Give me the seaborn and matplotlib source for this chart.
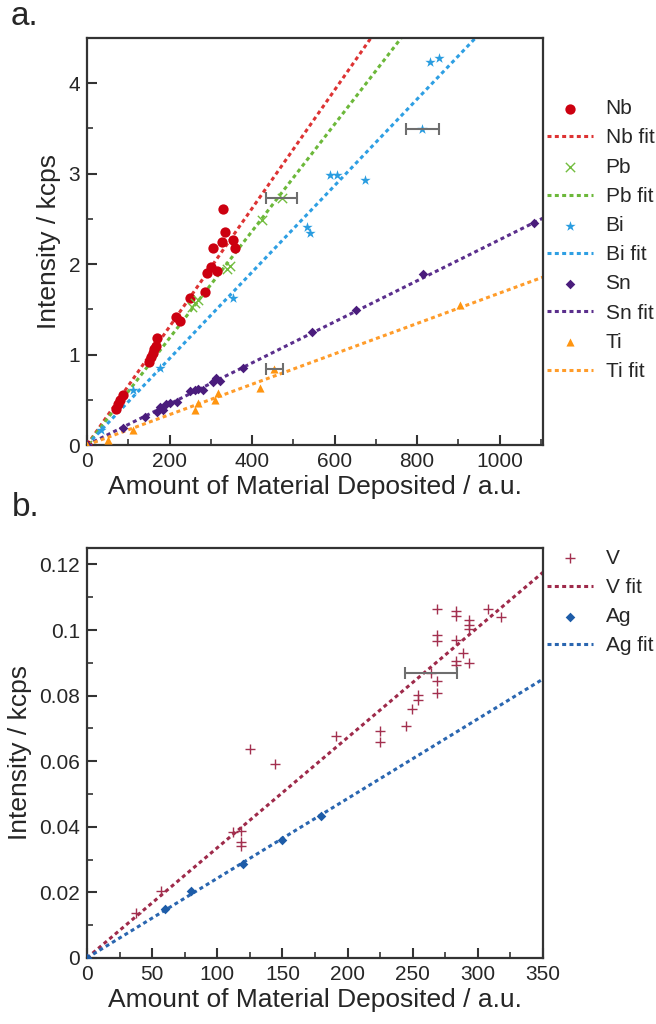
import numpy as np
import pandas as pd
import seaborn as sns
import matplotlib
matplotlib.use("Agg")
import matplotlib.pyplot as plt
from matplotlib.ticker import MultipleLocator

sns.set_theme(style="white")
plt.rcParams['font.family'] = ['Liberation Sans', 'DejaVu Sans']

# ---------------- Panel a data ----------------
nb_x = [0, 70, 75, 80, 88, 150, 155, 160, 163, 167, 170, 215, 225, 250, 286, 291, 300, 306, 315, 327, 335, 355, 359, 330]
nb_y = [0, 0.40, 0.45, 0.50, 0.55, 0.92, 0.97, 1.02, 1.06, 1.10, 1.18, 1.41, 1.37, 1.63, 1.69, 1.90, 1.97, 2.18, 1.92, 2.24, 2.35, 2.27, 2.18, 2.61]
pb_x = [0, 255, 262, 268, 340, 346, 424, 472]
pb_y = [0, 1.53, 1.57, 1.60, 1.95, 1.98, 2.49, 2.73]
bi_x = [0, 35, 112, 177, 355, 533, 541, 589, 606, 674, 812, 832, 853]
bi_y = [0, 0.17, 0.61, 0.85, 1.63, 2.41, 2.34, 2.99, 2.98, 2.93, 3.49, 4.24, 4.28]
sn_x = [0, 88, 141, 170, 178, 185, 192, 200, 218, 250, 262, 270, 280, 306, 313, 322, 378, 545, 652, 814, 1084]
sn_y = [0, 0.19, 0.31, 0.37, 0.42, 0.39, 0.45, 0.47, 0.48, 0.60, 0.61, 0.62, 0.61, 0.70, 0.74, 0.71, 0.85, 1.25, 1.49, 1.89, 2.46]
ti_x = [0, 51, 112, 262, 270, 310, 318, 420, 453, 904]
ti_y = [0, 0.06, 0.17, 0.39, 0.46, 0.50, 0.57, 0.63, 0.84, 1.55]
# fitted slopes (kcps per a.u.)
slope_a = {"Nb": 0.00654, "Pb": 0.00591, "Bi": 0.00478, "Sn": 0.00227, "Ti": 0.00168}
# error bars: x, y, xerr
err_a_x = [472, 812, 455]
err_a_y = [2.73, 3.49, 0.84]
err_a_dx = [38, 40, 21]

# ---------------- Panel b data ----------------
v_x = [38, 56.5, 112, 118, 118, 118, 125, 144, 191.5, 224.7, 224.7, 244.7, 249.3, 254, 254, 264, 268.7, 268.7, 268.7, 268.7, 268.7,
       283.5, 283.5, 283.5, 283.5, 283.5, 288.6, 293.2, 293.2, 293.2, 293.2, 307.7, 318]
v_y = [0.0138, 0.0205, 0.0383, 0.0386, 0.0355, 0.0340, 0.0638, 0.0590, 0.0676, 0.0691, 0.0660, 0.0706, 0.0760, 0.0788, 0.0803, 0.0869,
       0.0844, 0.0808, 0.0986, 0.0966, 0.1063, 0.1058, 0.1042, 0.0971, 0.0905, 0.0892, 0.0930, 0.1032, 0.1014, 0.1002, 0.0900, 0.1063, 0.1040]
ag_x = [0, 60, 80, 120, 150, 180]
ag_y = [0, 0.0150, 0.0203, 0.0287, 0.0360, 0.0434]
slope_b = {"V": 3.36e-4, "Ag": 2.43e-4}
err_b_x = [264]
err_b_y = [0.0869]
err_b_dx = [20]

colors = {"Nb": "#cc0010", "Pb": "#72bd3e", "Bi": "#2a9de0", "Sn": "#4a1c7c", "Ti": "#ff9510",
          "V": "#a3304f", "Ag": "#1d5ca8"}
fitcolors = {"Nb": "#dd3333", "Pb": "#6cb83a", "Bi": "#2e9fe3", "Sn": "#5a2e8c", "Ti": "#ff9c2a",
             "V": "#9e2a4a", "Ag": "#2a66b0"}

fig = plt.figure(figsize=(6.56, 10.24), dpi=100)
ax1 = fig.add_axes([0.1326, 0.5654, 0.6951, 0.3975])
ax2 = fig.add_axes([0.1326, 0.0645, 0.6951, 0.4003])

dash = (0, (1.3, 1.1))

def add_series(ax, name, xs, ys, marker, size, xmax, slope):
    df = pd.DataFrame({"x": xs, "y": ys})
    kw = dict(color=colors[name], marker=marker, s=size, label=name, ax=ax, zorder=3)
    if marker in ("x", "+"):
        kw["linewidth"] = 1.0
    else:
        kw["linewidth"] = 0
    sns.scatterplot(data=df, x="x", y="y", **kw)
    fx = np.array([0, xmax])
    fd = pd.DataFrame({"x": fx, "y": slope * fx})
    sns.lineplot(data=fd, x="x", y="y", ax=ax, color=fitcolors[name], linestyle=dash,
                 linewidth=2.2, label=name + " fit", zorder=2)

# Panel a
xmax_a = 1105
ax1.errorbar(err_a_x, err_a_y, xerr=err_a_dx, fmt="none", ecolor="#6e6e6e", elinewidth=1.5,
             capsize=4, capthick=1.5, zorder=4)
add_series(ax1, "Nb", nb_x, nb_y, "o", 55, xmax_a, slope_a["Nb"])
add_series(ax1, "Pb", pb_x, pb_y, "x", 45, xmax_a, slope_a["Pb"])
add_series(ax1, "Bi", bi_x, bi_y, "*", 60, xmax_a, slope_a["Bi"])
add_series(ax1, "Sn", sn_x, sn_y, "D", 24, xmax_a, slope_a["Sn"])
add_series(ax1, "Ti", ti_x, ti_y, "^", 34, xmax_a, slope_a["Ti"])
ax1.set_xlim(0, xmax_a)
ax1.set_ylim(0, 4.5)
ax1.xaxis.set_major_locator(MultipleLocator(200))
ax1.xaxis.set_minor_locator(MultipleLocator(100))
ax1.yaxis.set_major_locator(MultipleLocator(1))
ax1.yaxis.set_minor_locator(MultipleLocator(0.5))
ax1.set_xlabel("Amount of Material Deposited / a.u.", fontsize=19, labelpad=3)
ax1.set_ylabel("Intensity / kcps", fontsize=19, labelpad=5)

# Panel b
xmax_b = 350
ax2.errorbar(err_b_x, err_b_y, xerr=err_b_dx, fmt="none", ecolor="#6e6e6e", elinewidth=1.5,
             capsize=4, capthick=1.5, zorder=4)
add_series(ax2, "V", v_x, v_y, "+", 50, xmax_b, slope_b["V"])
add_series(ax2, "Ag", ag_x, ag_y, "D", 24, xmax_b, slope_b["Ag"])
ax2.set_xlim(0, xmax_b)
ax2.set_ylim(0, 0.125)
ax2.xaxis.set_major_locator(MultipleLocator(50))
ax2.xaxis.set_minor_locator(MultipleLocator(25))
ax2.yaxis.set_minor_locator(MultipleLocator(0.01))
ax2.set_yticks([0, 0.02, 0.04, 0.06, 0.08, 0.10, 0.12])
ax2.set_yticklabels(["0", "0.02", "0.04", "0.06", "0.08", "0.1", "0.12"])
ax2.set_xlabel("Amount of Material Deposited / a.u.", fontsize=19, labelpad=3)
ax2.set_ylabel("Intensity / kcps", fontsize=19, labelpad=5)

for ax in (ax1, ax2):
    for sp in ax.spines.values():
        sp.set_color("#333333")
        sp.set_linewidth(1.6)
    ax.tick_params(axis="both", which="major", direction="in", length=7, width=1.5,
                   color="#333333", labelsize=15, top=False, right=False, bottom=True, left=True, pad=5)
    ax.tick_params(axis="both", which="minor", direction="in", length=4, width=1.2,
                   color="#333333", top=False, right=False, bottom=True, left=True)
    ax.grid(False)

leg_kw = dict(loc="upper left", frameon=False, fontsize=15, handlelength=2.2,
              labelspacing=0.49, handletextpad=0.6, borderaxespad=0.0)
ax1.legend(bbox_to_anchor=(0.991, 0.870), **leg_kw)
ax2.legend(bbox_to_anchor=(0.991, 1.019), **leg_kw)

fig.text(0.016, 0.984, "a.", fontsize=24, ha="left", va="center")
fig.text(0.018, 0.504, "b.", fontsize=24, ha="left", va="center")

fig.savefig("out.png", dpi=100, facecolor="white")
